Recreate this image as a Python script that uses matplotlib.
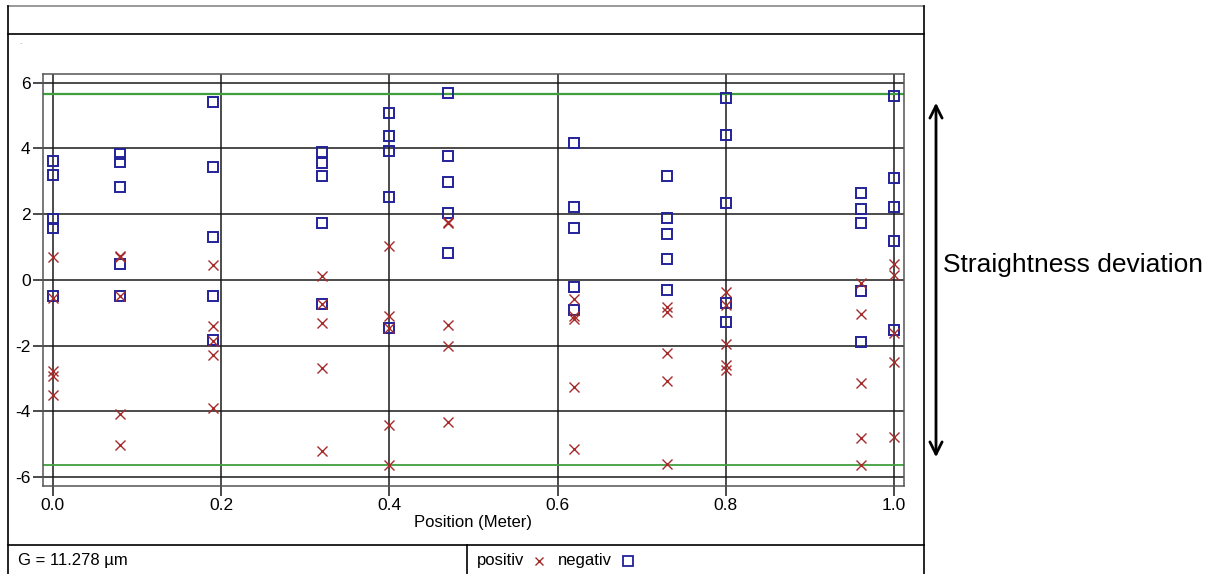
import numpy as np
import matplotlib
matplotlib.use("Agg")
import matplotlib.pyplot as plt

plt.rcParams['font.family'] = ['Liberation Sans', 'DejaVu Sans']
plt.rcParams['axes.unicode_minus'] = False

# measurement positions (m)
positions = [0.0, 0.08, 0.19, 0.32, 0.40, 0.47, 0.62, 0.73, 0.80, 0.96, 1.0]

# deviations (µm), 5 readings per position
positiv = [
    [0.68, -0.55, -2.77, -2.92, -3.49],
    [0.68, 0.72, -0.49, -4.07, -5.03],
    [0.46, -1.41, -1.85, -2.30, -3.90],
    [0.12, -0.74, -1.30, -2.69, -5.21],
    [1.02, -1.09, -1.47, -4.40, -5.62],
    [1.72, 1.76, -1.38, -2.01, -4.32],
    [-0.57, -1.10, -1.20, -3.27, -5.15],
    [-0.82, -0.97, -2.21, -3.09, -5.61],
    [-0.38, -0.77, -1.94, -2.60, -2.75],
    [-0.11, -1.04, -3.13, -4.81, -5.62],
    [0.48, 0.14, -1.63, -2.51, -4.78],
]
negativ = [
    [3.61, 3.19, 1.84, 1.59, -0.49],
    [3.82, 3.59, 2.82, 0.48, -0.49],
    [5.41, 3.43, 1.29, -0.49, -1.84],
    [3.90, 3.56, 3.17, 1.74, -0.74],
    [5.08, 4.37, 3.91, 2.51, -1.47],
    [5.67, 3.77, 2.97, 2.02, 0.82],
    [4.17, 2.21, 1.58, -0.22, -0.91],
    [3.15, 1.89, 1.38, 0.62, -0.32],
    [5.53, 4.41, 2.35, -0.69, -1.29],
    [2.64, 2.16, 1.74, -0.34, -1.90],
    [5.60, 3.10, 2.22, 1.17, -1.53],
]
G = 11.278

red = '#a52a2a'
blue = '#22229a'
green = '#3f9f3f'

W, H = 1217, 574
fig = plt.figure(figsize=(W / 100, H / 100), dpi=100)

# overlay in pixel coordinates for the frame decorations
ov = fig.add_axes([0, 0, 1, 1], zorder=0)
ov.set_xlim(0, W)
ov.set_ylim(H, 0)
ov.axis('off')
ov.plot([7.5, 924], [6, 6], color='#888888', lw=1.2)
ov.plot([7.5, 7.5], [6, H], color='black', lw=1.2)
ov.plot([924, 924], [6, H], color='black', lw=1.2)
ov.plot([7.5, 924], [34, 34], color='black', lw=1.2)
ov.plot([7.5, 924], [545, 545], color='black', lw=1.2)
ov.plot([466.5, 466.5], [545, H], color='black', lw=1.2)
ov.text(20, 46, '.', color='gray', fontsize=6, ha='center', va='bottom')

fs = 12
ov.text(18, 560, 'G = %.3f µm' % G, fontsize=fs, va='center', ha='left')
ov.text(477, 560, 'positiv', fontsize=fs, va='center', ha='left')
ov.plot([539], [561], 'x', color=red, ms=6, mew=1)
ov.text(558, 560, 'negativ', fontsize=fs, va='center', ha='left')
ov.plot([628], [561], 's', mfc='none', mec=blue, ms=6.5, mew=1.3)

ov.annotate('', xy=(936, 100), xytext=(936, 460),
            arrowprops=dict(arrowstyle='<->', lw=2, color='black',
                            mutation_scale=22))
ov.text(943, 265, 'Straightness deviation', fontsize=19, va='center', ha='left')

# main plot
ax = fig.add_axes([43 / W, 1 - 485.7 / H, (903.7 - 43) / W, (485.7 - 74.3) / H],
                  zorder=1)
ax.set_xlim(-0.0115, 1.0113)
ax.set_ylim(-6.26, 6.25)

px = np.repeat(positions, [len(v) for v in positiv])
ax.plot(px, np.concatenate(positiv), 'x', color=red, ms=7, mew=1, zorder=4)
nx = np.repeat(positions, [len(v) for v in negativ])
ax.plot(nx, np.concatenate(negativ), 's', mfc='none', mec=blue, ms=6.9,
        mew=1.4, zorder=3)

ax.axhline(G / 2, color=green, lw=1.6, zorder=2)
ax.axhline(-G / 2, color=green, lw=1.3, zorder=2)

ax.set_xticks(np.arange(0, 1.01, 0.2))
ax.set_yticks(np.arange(-6, 7, 2))
ax.set_xticklabels(['0.0', '0.2', '0.4', '0.6', '0.8', '1.0'])
ax.grid(True, color='#1a1a1a', lw=1.1, zorder=1)
ax.set_axisbelow(True)
ax.tick_params(length=7, width=1.1, color='#1a1a1a', labelsize=12.5, pad=2)
for s in ax.spines.values():
    s.set_color('#555555')
    s.set_linewidth(1.1)
ax.set_xlabel('Position (Meter)', fontsize=fs, labelpad=1)

fig.savefig('out.png', dpi=100)
